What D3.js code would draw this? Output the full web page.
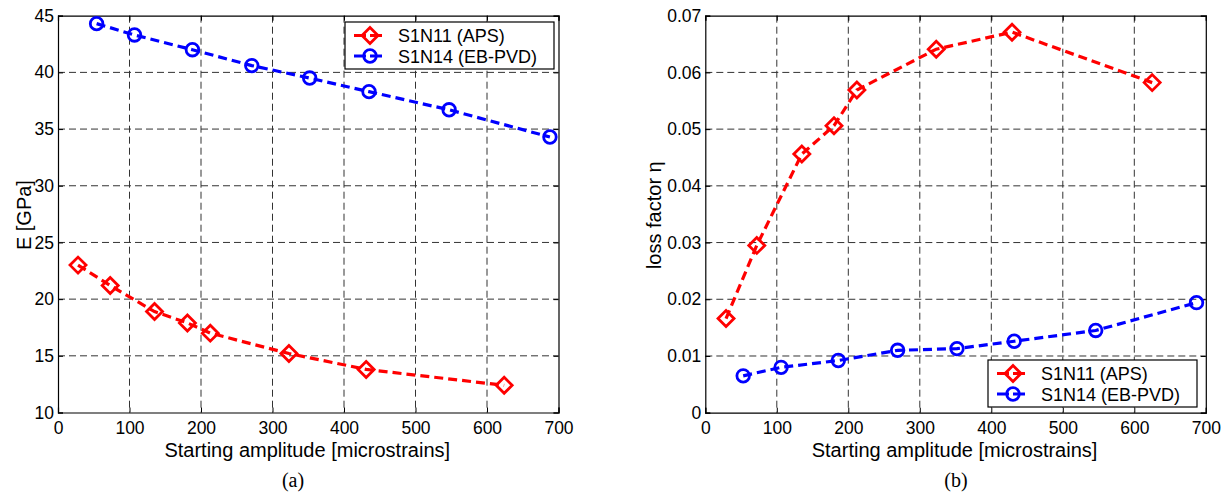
<!DOCTYPE html>
<html>
<head>
<meta charset="utf-8">
<script src="https://cdn.jsdelivr.net/npm/d3@7"></script>
<style>
  body { margin: 0; background: #fff; }
  svg { display: block; font-family: "Liberation Sans", Arial, sans-serif; }
</style>
</head>
<body>
<div id="chartContainer"></div>
<script>
// Series names
const seriesNames = ["S1N11 (APS)", "S1N14 (EB-PVD)"];

// Panel (a): Young's modulus
const apsStrainA = [28, 73, 135, 181, 213, 323, 431, 624];
const apsModulus = [23.0, 21.2, 18.9, 17.9, 17.0, 15.2, 13.8, 12.4];
const ebpvdStrainA = [54, 107, 188, 271, 352, 435, 547, 688];
const ebpvdModulus = [44.3, 43.3, 42.0, 40.6, 39.5, 38.3, 36.7, 34.3];

// Panel (b): loss factor
const apsStrainB = [29, 72, 135, 180, 212, 323, 429, 625];
const apsLoss = [0.0166, 0.0295, 0.0456, 0.0506, 0.0569, 0.0641, 0.0671, 0.0582];
const ebpvdStrainB = [53, 106, 186, 269, 352, 432, 546, 687];
const ebpvdLoss = [0.0065, 0.0080, 0.0092, 0.0110, 0.0113, 0.0126, 0.0145, 0.0194];

// Tick labels
const xTicks = [0, 100, 200, 300, 400, 500, 600, 700];
const yTicksA = [10, 15, 20, 25, 30, 35, 40, 45];
const yTicksB = [0, 0.01, 0.02, 0.03, 0.04, 0.05, 0.06, 0.07];

const W = 1232, H = 498;
const svg = d3.select("#chartContainer").append("svg")
    .attr("width", W)
    .attr("height", H);

const colors = ["#ff0000", "#0000ff"];
const markers = ["diamond", "circle"];

function drawMarker(g, type, x, y, color) {
    if (type === "diamond") {
        const s = 8;
        g.append("path")
            .attr("d", `M${x},${y - s}L${x + s},${y}L${x},${y + s}L${x - s},${y}Z`)
            .attr("fill", "none")
            .attr("stroke", color)
            .attr("stroke-width", 2.8);
    } else {
        g.append("circle")
            .attr("cx", x).attr("cy", y).attr("r", 6.3)
            .attr("fill", "none")
            .attr("stroke", color)
            .attr("stroke-width", 2.8);
    }
}

function drawPanel(cfg) {
    const g = svg.append("g");
    const x = d3.scaleLinear().domain([0, 700]).range([cfg.left, cfg.left + 500.5]);
    const y = d3.scaleLinear().domain(cfg.yDomain).range([cfg.bottom, cfg.top]);

    // Grid
    g.selectAll(".vgrid").data(xTicks.slice(1, -1)).enter().append("line")
        .attr("x1", d => x(d)).attr("x2", d => x(d))
        .attr("y1", cfg.top).attr("y2", cfg.bottom)
        .attr("stroke", "#333").attr("stroke-width", 1)
        .attr("stroke-dasharray", "7,4");
    g.selectAll(".hgrid").data(cfg.yTicks.slice(1, -1)).enter().append("line")
        .attr("x1", x(0)).attr("x2", x(700))
        .attr("y1", d => y(d)).attr("y2", d => y(d))
        .attr("stroke", "#333").attr("stroke-width", 1)
        .attr("stroke-dasharray", "7,4");

    // Axes (MATLAB style: ticks inward, on all sides)
    const tickLen = 5;
    g.append("g")
        .attr("transform", `translate(0,${cfg.bottom})`)
        .call(d3.axisBottom(x).tickValues(xTicks).tickSize(-tickLen).tickPadding(9).tickFormat(d3.format("d")));
    g.append("g")
        .attr("transform", `translate(0,${cfg.top})`)
        .call(d3.axisTop(x).tickValues(xTicks).tickSize(-tickLen).tickFormat(""));
    g.append("g")
        .attr("transform", `translate(${x(0)},0)`)
        .call(d3.axisLeft(y).tickValues(cfg.yTicks).tickSize(-tickLen).tickPadding(4).tickFormat(cfg.yFormat));
    g.append("g")
        .attr("transform", `translate(${x(700)},0)`)
        .call(d3.axisRight(y).tickValues(cfg.yTicks).tickSize(-tickLen).tickFormat(""));
    g.selectAll(".domain").attr("stroke", "#000").attr("stroke-width", 1.2);
    g.selectAll(".tick line").attr("stroke", "#000");
    g.selectAll(".tick text")
        .style("font-family", "'Liberation Sans', Arial, sans-serif")
        .style("font-size", "17.5px").attr("fill", "#000");

    // Series
    cfg.series.forEach((s, i) => {
        const pts = s.x.map((v, k) => [x(v), y(s.y[k])]);
        g.append("path")
            .datum(pts)
            .attr("d", d3.line())
            .attr("fill", "none")
            .attr("stroke", colors[i])
            .attr("stroke-width", 3.2)
            .attr("stroke-dasharray", "9,5");
        pts.forEach(p => drawMarker(g, markers[i], p[0], p[1], colors[i]));
    });

    // Axis labels
    g.append("text")
        .attr("x", x(350) - 1).attr("y", cfg.bottom + 44)
        .attr("text-anchor", "middle")
        .style("font-size", "20px")
        .text("Starting amplitude [microstrains]");
    g.append("text")
        .attr("transform", `translate(${cfg.yLabelX},${(cfg.top + cfg.bottom) / 2 + 1}) rotate(-90)`)
        .attr("text-anchor", "middle")
        .style("font-size", "20px")
        .text(cfg.yLabel);

    // Caption
    g.append("text")
        .attr("x", cfg.captionX).attr("y", 487)
        .attr("text-anchor", "middle")
        .style("font-family", "'Liberation Serif', 'Times New Roman', serif")
        .style("font-size", "20px")
        .text(cfg.caption);

    // Legend
    const L = cfg.legend;
    g.append("rect")
        .attr("x", L.x).attr("y", L.y)
        .attr("width", L.w).attr("height", L.h)
        .attr("fill", "#fff").attr("stroke", "#000").attr("stroke-width", 1.2);
    seriesNames.forEach((name, i) => {
        const cy = L.y + 13.5 + i * 20.5;
        g.append("line")
            .attr("x1", L.x + 9).attr("x2", L.x + 41)
            .attr("y1", cy).attr("y2", cy)
            .attr("stroke", colors[i]).attr("stroke-width", 3.2)
            .attr("stroke-dasharray", "12,4");
        drawMarker(g, markers[i], L.x + 25, cy, colors[i]);
        g.append("text")
            .attr("x", L.x + 53).attr("y", cy + 6.5)
            .style("font-size", "18px")
            .text(name);
    });
}

drawPanel({
    left: 58, top: 15.7, bottom: 412.5,
    yDomain: [10, 45], yTicks: yTicksA, yFormat: d3.format("d"),
    yLabel: "E [GPa]", yLabelX: 31,
    caption: "(a)", captionX: 293,
    legend: { x: 345, y: 22, w: 209, h: 47 },
    series: [
        { x: apsStrainA, y: apsModulus },
        { x: ebpvdStrainA, y: ebpvdModulus }
    ]
});

drawPanel({
    left: 705.3, top: 15.7, bottom: 412.7,
    yDomain: [0, 0.07], yTicks: yTicksB, yFormat: d => d === 0 ? "0" : d3.format(".2f")(d),
    yLabel: "loss factor η", yLabelX: 661,
    caption: "(b)", captionX: 956,
    legend: { x: 988, y: 360, w: 209, h: 47 },
    series: [
        { x: apsStrainB, y: apsLoss },
        { x: ebpvdStrainB, y: ebpvdLoss }
    ]
});
</script>
</body>
</html>
